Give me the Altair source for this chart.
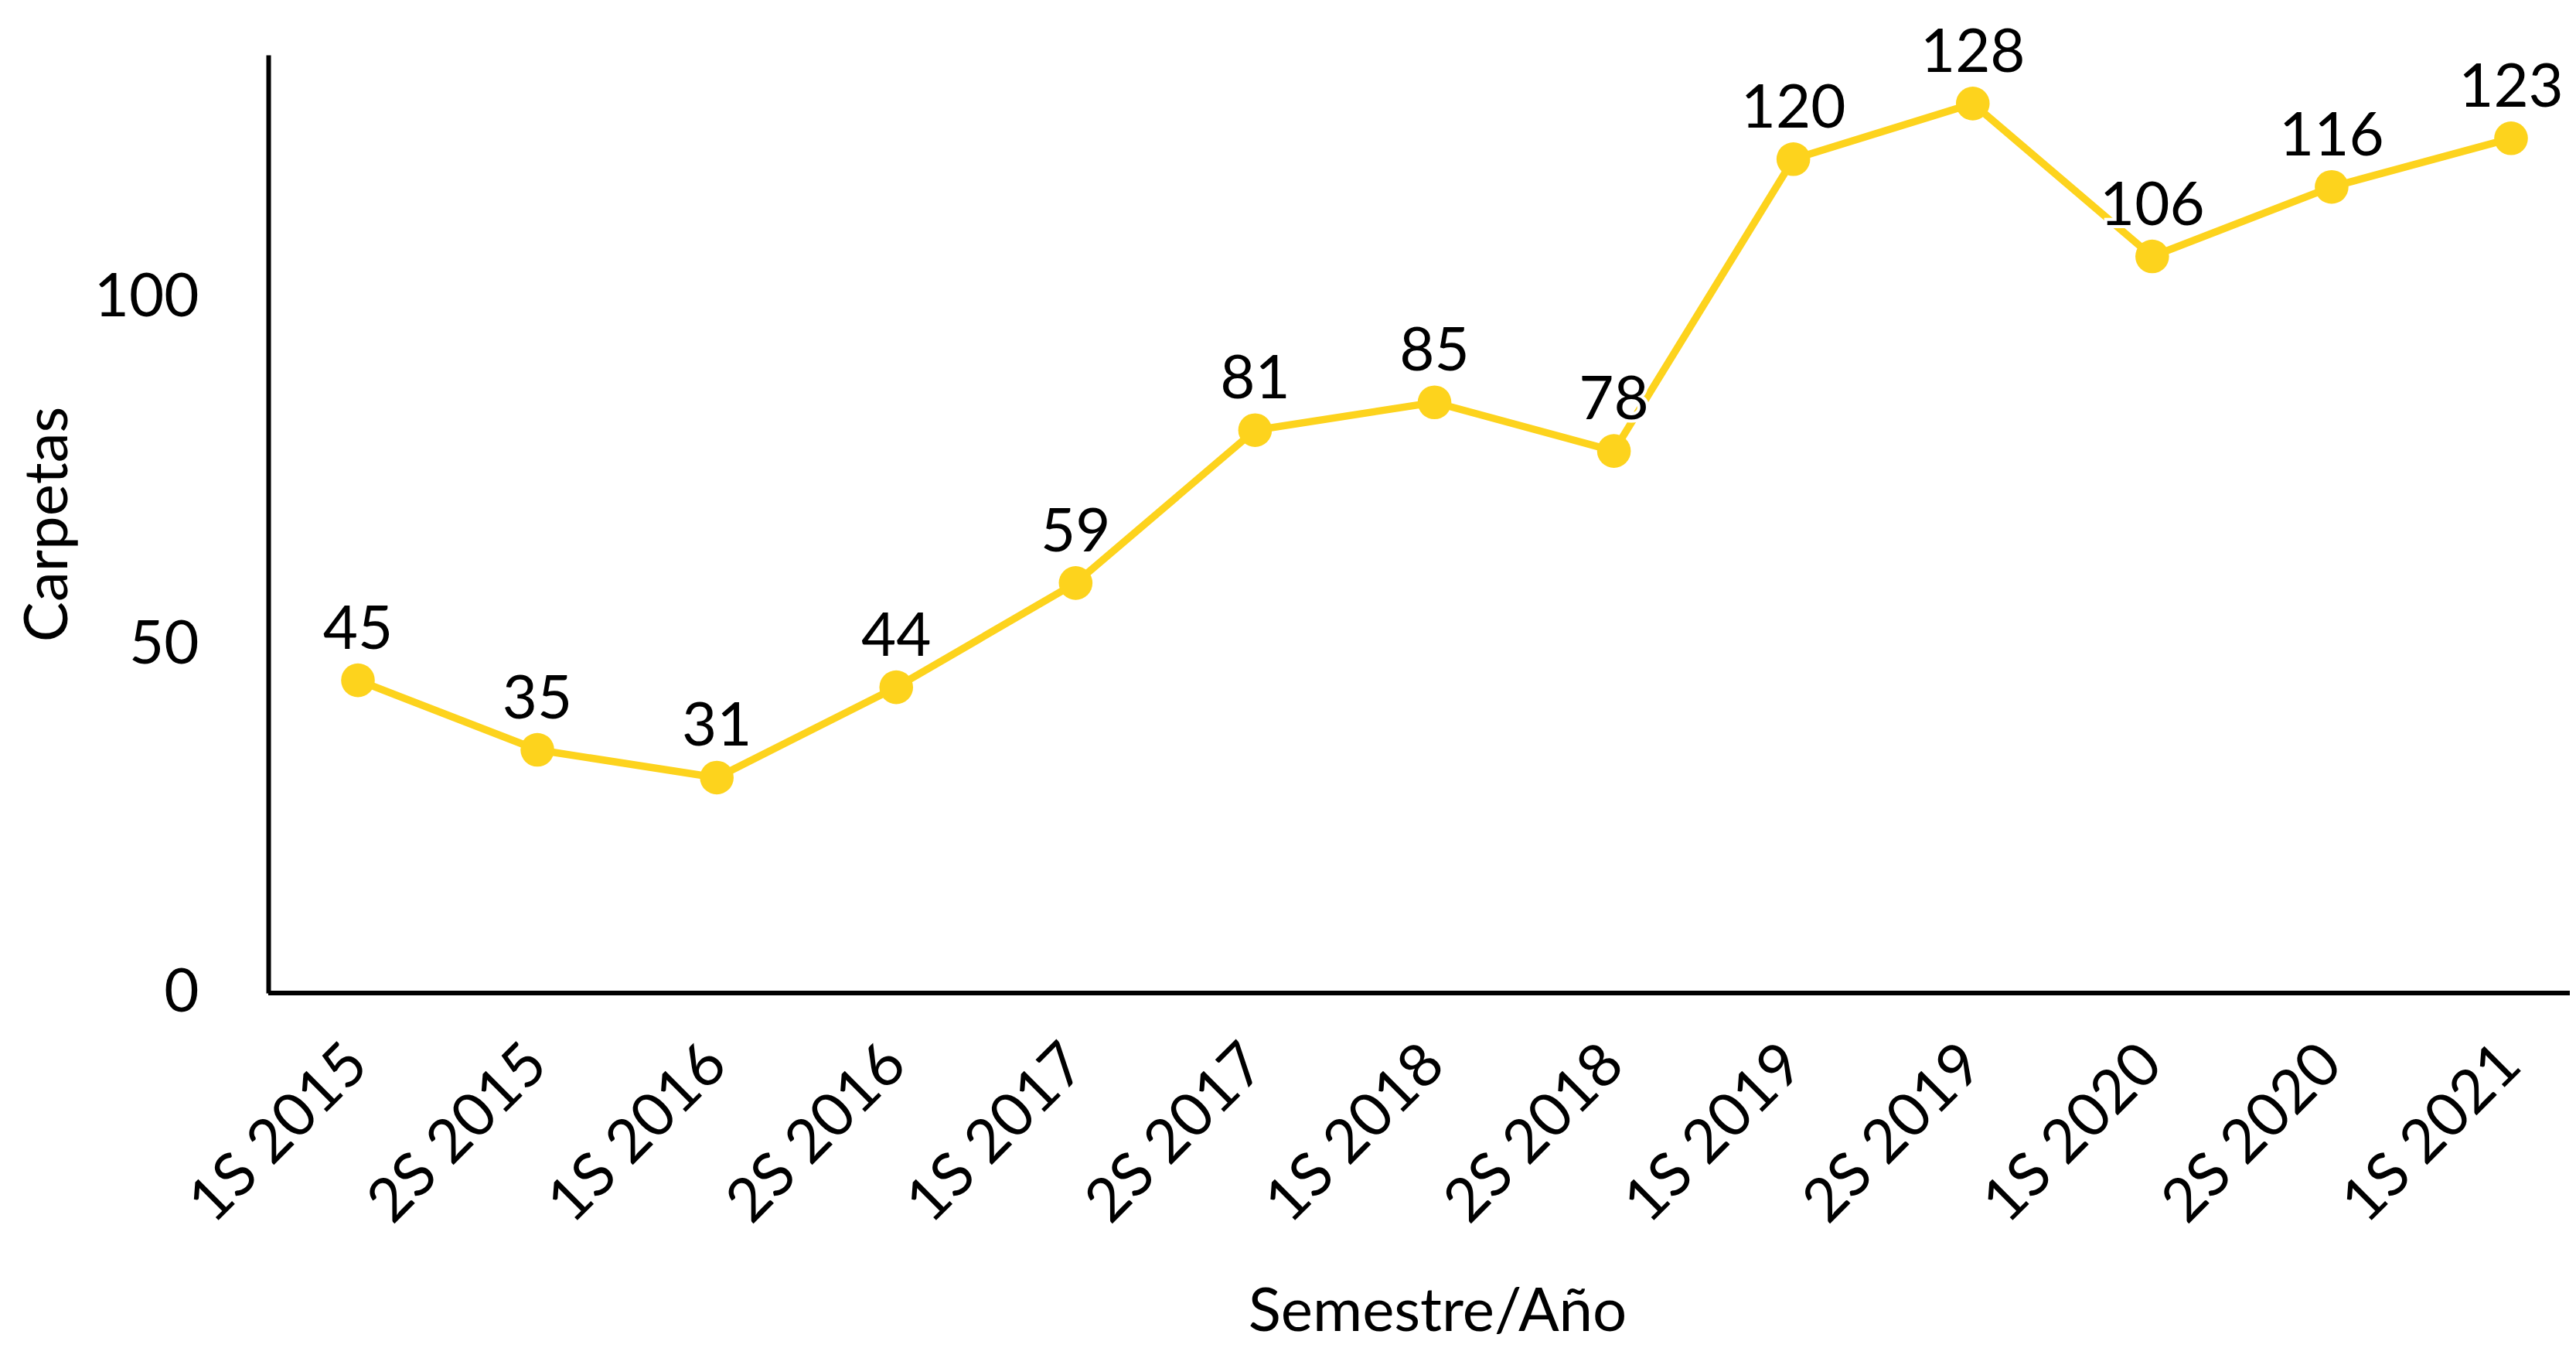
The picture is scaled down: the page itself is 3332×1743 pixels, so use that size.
import altair as alt
import pandas as pd

semestres = ["1S 2015", "2S 2015", "1S 2016", "2S 2016", "1S 2017", "2S 2017",
             "1S 2018", "2S 2018", "1S 2019", "2S 2019", "1S 2020", "2S 2020", "1S 2021"]
carpetas = [45, 35, 31, 44, 59, 81, 85, 78, 120, 128, 106, 116, 123]
y_ticks = [0, 50, 100]

df = pd.DataFrame({"Semestre": semestres, "Carpetas": carpetas})

FONT = "Lato"
YELLOW = "#FDD31D"
W, H = 2977, 1213
FS = 78

x = alt.X(
    "Semestre:O",
    sort=semestres,
    scale=alt.Scale(type="point", range=[116, 2901], padding=0),
    axis=alt.Axis(
        title="Semestre/Año",
        labelAngle=315,
        labelAlign="right",
        labelBaseline="middle",
        labelPadding=80,
        labelLimit=0,
        ticks=False,
        tickSize=0,
        grid=False,
        domain=False,
        labelFont=FONT,
        labelFontSize=FS,
        labelColor="black",
        titleFont=FONT,
        titleFontSize=FS,
        titleFontWeight="normal",
        titleColor="black",
        titleLimit=0,
        titleX=1512,
        titleY=436,
        titleAlign="center",
        titleBaseline="alphabetic",
    ),
)

y = alt.Y(
    "Carpetas:Q",
    scale=alt.Scale(domain=[0, 135], nice=False),
    axis=alt.Axis(
        title="Carpetas",
        values=y_ticks,
        ticks=False,
        tickSize=0,
        grid=False,
        labelPadding=90,
        domainColor="black",
        domainWidth=6,
        labelFont=FONT,
        labelFontSize=FS,
        labelColor="black",
        titleFont=FONT,
        titleFontSize=FS,
        titleFontWeight="normal",
        titleColor="black",
        titleLimit=0,
        titleX=-284,
        titleY=H / 2,
        titleAngle=270,
        titleAlign="center",
        titleBaseline="middle",
    ),
)

base = alt.Chart(df).encode(x=x, y=y)

# x-axis baseline drawn at y = 0 across the full plot width
baseline = alt.Chart(df).mark_rule(color="black", strokeWidth=6).encode(
    y=alt.datum(0), x=alt.value(0), x2=alt.value(W)
)

line = base.mark_line(color=YELLOW, strokeWidth=9.5)
points = base.mark_circle(color=YELLOW, size=1900, opacity=1)
halo = base.mark_text(
    font=FONT, fontSize=FS, dy=-41, baseline="alphabetic", align="center",
    color="white", stroke="white", strokeWidth=8
).encode(text="Carpetas:Q")
labels = base.mark_text(
    font=FONT, fontSize=FS, dy=-41, baseline="alphabetic", align="center",
    color="black"
).encode(text="Carpetas:Q")

chart = (
    alt.layer(baseline, line, points, halo, labels)
    .properties(
        width=W,
        height=H,
        autosize=alt.AutoSizeParams(type="none"),
        padding={"left": 339, "top": 63, "right": 0, "bottom": 455},
        background="white",
    )
    .configure_view(strokeWidth=0)
)

chart.save("out.html", embed_options={"renderer": "svg", "actions": False})
